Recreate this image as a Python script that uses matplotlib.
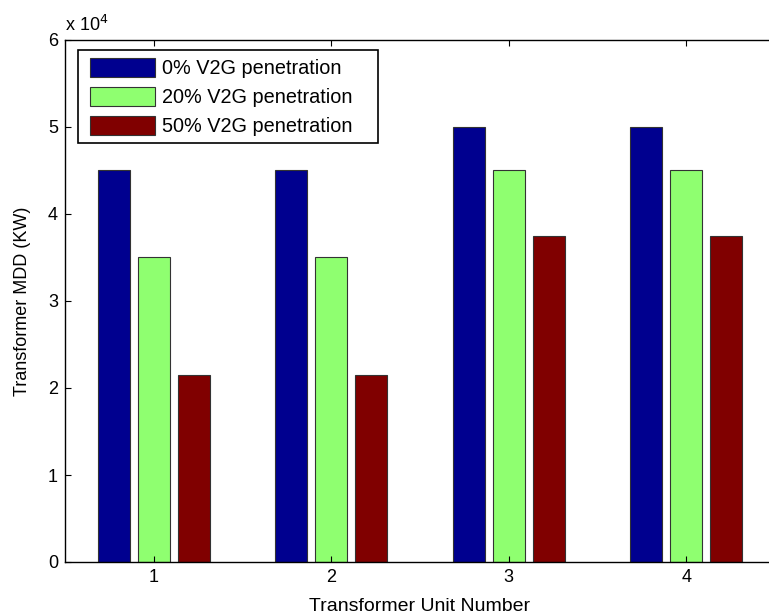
import numpy as np
import matplotlib.pyplot as plt
from matplotlib.ticker import FuncFormatter
from matplotlib.patches import Rectangle
from matplotlib.transforms import IdentityTransform

plt.rcParams['font.family'] = ['Liberation Sans', 'DejaVu Sans']

# данные
units = [1, 2, 3, 4]
mdd_0 = [45000, 45000, 50000, 50000]
mdd_20 = [35000, 35000, 45000, 45000]
mdd_50 = [21500, 21500, 37500, 37500]
labels = ["0% V2G penetration", "20% V2G penetration", "50% V2G penetration"]
colors = ["#00008F", "#8FFF70", "#800000"]

fig = plt.figure(figsize=(7.69, 6.15), dpi=100)
ax = fig.add_axes([65 / 769, 53 / 615, 710 / 769, 522 / 615])

x = np.array(units)
w = 0.18
off = 0.225
for i, vals in enumerate([mdd_0, mdd_20, mdd_50]):
    ax.bar(x + (i - 1) * off, vals, width=w, color=colors[i],
           edgecolor="#333333", linewidth=0.8, label=labels[i])

ax.set_xlim(0.5, 4.5)
ax.set_ylim(0, 60000)
ax.set_xticks(units)
ax.set_yticks(np.arange(0, 60001, 10000))
ax.yaxis.set_major_formatter(FuncFormatter(lambda v, p: "%g" % (v / 1e4)))
ax.tick_params(direction="in", top=True, right=True, length=4, width=0.8,
               labelsize=13, pad=5)
for s in ax.spines.values():
    s.set_linewidth(1.0)
ax.spines["right"].set_visible(False)

ax.text(0.0, 1.01, r"x 10$^{4}$", transform=ax.transAxes, fontsize=13,
        ha="left", va="bottom")

ax.set_xlabel("Transformer Unit Number", fontsize=14, labelpad=9)
ax.set_ylabel("Transformer MDD (KW)", fontsize=13, labelpad=12)

leg = ax.legend(loc="upper left", bbox_to_anchor=(17 / 710, 512 / 522),
                borderaxespad=0, fontsize=14.3, frameon=False,
                handlelength=3.3, handleheight=1.1, handletextpad=0.35,
                labelspacing=0.43, borderpad=0.4)

# рамка легенды пошире, как в MATLAB
fig.canvas.draw()
bb = leg.get_window_extent()
frame = Rectangle((bb.x0 - 4, bb.y0 + 1), 300, bb.height - 1,
                  transform=IdentityTransform(), facecolor="white",
                  edgecolor="black", linewidth=1.2, zorder=4.5)
ax.add_artist(frame)

plt.savefig("out.png", dpi=100)
